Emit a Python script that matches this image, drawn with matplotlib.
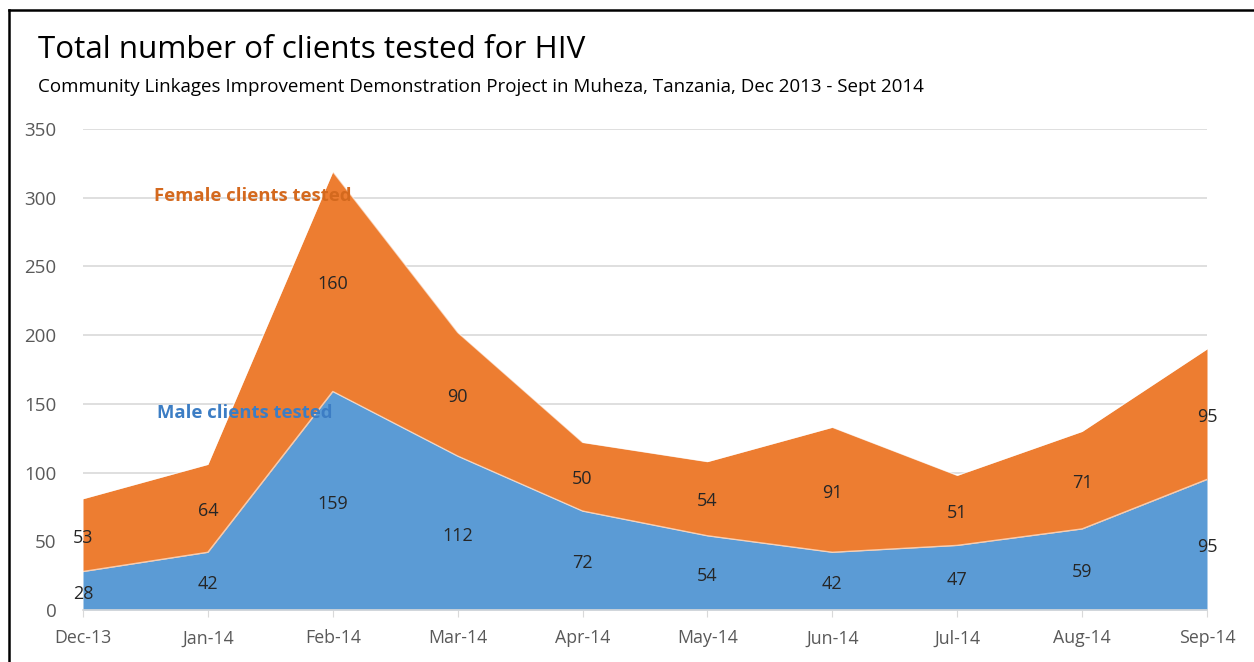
import matplotlib.pyplot as plt
import numpy as np
from matplotlib.lines import Line2D

months = ["Dec-13", "Jan-14", "Feb-14", "Mar-14", "Apr-14", "May-14",
          "Jun-14", "Jul-14", "Aug-14", "Sep-14"]
male = [28, 42, 159, 112, 72, 54, 42, 47, 59, 95]
female = [53, 64, 160, 90, 50, 54, 91, 51, 71, 95]
yticks = [0, 50, 100, 150, 200, 250, 300, 350]

title = "Total number of clients tested for HIV"
subtitle = "Community Linkages Improvement Demonstration Project in Muheza, Tanzania, Dec 2013 - Sept 2014"

plt.rcParams['font.family'] = ['Open Sans', 'DejaVu Sans']

W, H = 1254, 662
fig = plt.figure(figsize=(W / 100, H / 100), dpi=100)
ax = fig.add_axes([83 / W, (H - 610) / H, (1207 - 83) / W, (610 - 129) / H])

x = np.arange(len(months))
male_a = np.array(male)
female_a = np.array(female)
total = male_a + female_a

ax.fill_between(x, 0, male_a, color="#5B9BD5", lw=0, zorder=2)
ax.fill_between(x, male_a, total, color="#ED7D31", lw=0, zorder=2)
ax.plot(x, male_a, color="white", lw=1.0, alpha=0.6, zorder=3)
ax.plot(x, total, color="white", lw=1.0, alpha=0.6, zorder=3)

for i in range(len(x)):
    ax.annotate(str(male[i]), (x[i], male_a[i] / 2), xytext=(0, -2),
                textcoords="offset points", ha="center", va="center",
                fontsize=13, color="#262626", zorder=4)
    ax.annotate(str(female[i]), (x[i], male_a[i] + female_a[i] / 2), xytext=(0, -2),
                textcoords="offset points", ha="center", va="center",
                fontsize=13, color="#262626", zorder=4)

ax.text(0.565, 301, "Female clients tested", ha="left", va="center",
        fontsize=13.3, color="#D4691E", fontweight="bold", zorder=5)
ax.text(0.595, 143, "Male clients tested", ha="left", va="center",
        fontsize=13.3, color="#3C7DC4", fontweight="bold", zorder=5)

ax.set_xlim(0, len(months) - 1)
ax.set_ylim(0, 350)
ax.set_yticks(yticks)
ax.set_xticks(x)
ax.set_xticklabels(months)
for s in ["top", "right", "left"]:
    ax.spines[s].set_visible(False)
ax.spines["bottom"].set_color("#D9D9D9")
ax.spines["bottom"].set_linewidth(1.2)
ax.spines["bottom"].set_zorder(5)
ax.yaxis.grid(True, color="#D9D9D9", lw=1.2, zorder=0)
ax.set_axisbelow(True)
ax.tick_params(axis="y", length=0, pad=19, labelsize=13.5, labelcolor="#595959")
ax.tick_params(axis="x", length=5, color="#D9D9D9", pad=9, labelsize=12.8,
               labelcolor="#595959")

fig.text(38 / W, 1 - 50 / H, title, ha="left", va="center", fontsize=22.6, color="black")
fig.text(38 / W, 1 - 87 / H, subtitle, ha="left", va="center", fontsize=13.5, color="black")

fig.add_artist(Line2D([9 / W, 1], [1 - 10 / H, 1 - 10 / H], color="black", lw=1.8,
                      transform=fig.transFigure))
fig.add_artist(Line2D([9 / W, 9 / W], [0, 1 - 10 / H], color="black", lw=1.8,
                      transform=fig.transFigure))

fig.savefig("out.png", dpi=100)
